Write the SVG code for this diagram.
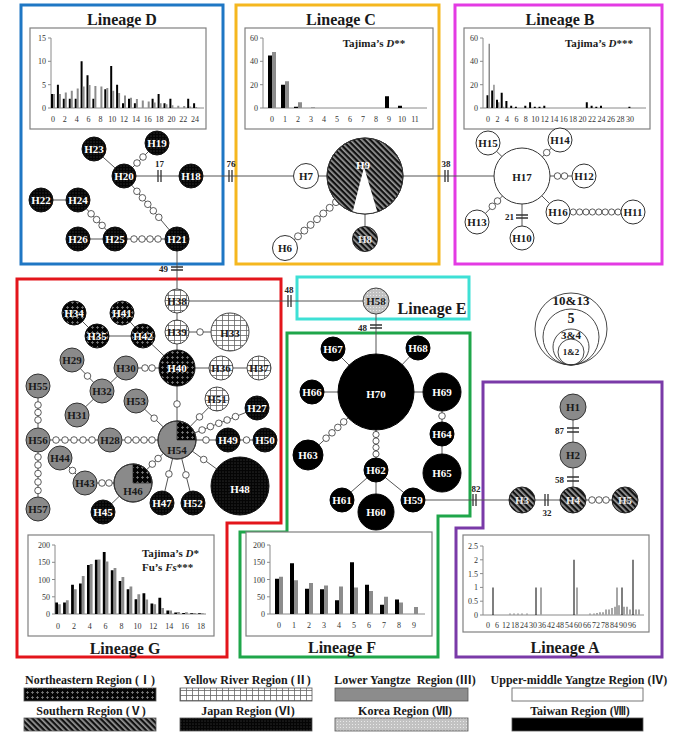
<svg xmlns="http://www.w3.org/2000/svg" width="680" height="755" viewBox="0 0 680 755">
<defs>
<pattern id="pN" width="5" height="5" patternUnits="userSpaceOnUse"><rect width="5" height="5" fill="#050505"/><path d="M2.5 1.2V3.8M1.2 2.5H3.8" stroke="#7a7a7a" stroke-width="1"/></pattern>
<pattern id="pY" width="6" height="5" patternUnits="userSpaceOnUse"><rect width="6" height="5" fill="#fff"/><path d="M0 0.5H6M0.5 0V5" stroke="#666" stroke-width="0.8"/></pattern>
<pattern id="pS" width="4" height="4" patternUnits="userSpaceOnUse" patternTransform="rotate(-45)"><rect width="4" height="4" fill="#111"/><rect width="1.7" height="4" fill="#9a9a9a"/></pattern>
<pattern id="pJ" width="3" height="3" patternUnits="userSpaceOnUse"><rect width="3" height="3" fill="#050505"/><circle cx="1" cy="1" r="0.45" fill="#8a8a8a"/></pattern>
<pattern id="pK" width="3" height="3" patternUnits="userSpaceOnUse"><rect width="3" height="3" fill="#c2c2c2"/><circle cx="1.5" cy="1.5" r="0.55" fill="#efefef"/></pattern>
</defs>
<style>
.tt{font-family:"Liberation Serif","Noto Sans CJK SC",serif;font-weight:bold;text-anchor:middle;fill:#1a1a1a}
.nl{font-family:"Liberation Serif",serif;font-weight:bold;font-size:11px;text-anchor:middle}
.w{fill:#fff}
.d{fill:#1a1a1a}
.ax{font-family:"Liberation Serif",serif;font-size:8px;fill:#333;text-anchor:middle}
.ay{font-family:"Liberation Serif",serif;font-size:8px;fill:#333;text-anchor:end}
.e{stroke:#555;stroke-width:1;fill:none}
.sc{fill:#fff;stroke:#333;stroke-width:0.8}
.tk{stroke:#333;stroke-width:1.3;fill:none}
.tl{font-family:"Liberation Serif",serif;font-weight:bold;font-size:9px;fill:#222;text-anchor:middle}
.tr{font-family:"Liberation Serif",serif;font-weight:bold;font-size:9px;fill:#222;text-anchor:end}
.box{fill:none;stroke-width:3}
.fr{fill:#fff;stroke:#808080;stroke-width:1.2}
.axl{stroke:#8a8a8a;stroke-width:1;fill:none}
.bk{fill:#000}
.gr{fill:#8c8c8c}
.nB{fill:url(#pJ);stroke:#111}
.nT{fill:#000;stroke:#000}
.nS{fill:url(#pS);stroke:#222}
.nG{fill:#8a8a8a;stroke:#333}
.nW{fill:#fff;stroke:#333}
.nY{fill:url(#pY);stroke:#444}
.nN{fill:url(#pN);stroke:#111}
.nK{fill:url(#pK);stroke:#444}
.lg{stroke:#555;stroke-width:0.8}
.leg{font-family:"Liberation Serif","Noto Sans CJK SC",serif;font-weight:bold;font-size:12px;text-anchor:middle;fill:#1a1a1a}
</style>
<rect width="680" height="755" fill="#fff"/>

<g id="boxes">
<rect class="box" x="21" y="5" width="202" height="259" stroke="#1f77c4"/>
<rect class="box" x="236" y="5" width="203" height="259" stroke="#f5b71f"/>
<rect class="box" x="455" y="5" width="207" height="259" stroke="#e33be3"/>
<rect class="box" x="297" y="277" width="172" height="42" stroke="#3ee0d5"/>
<polygon class="box" points="17,279 281,279 281,523 227,523 227,657 17,657" stroke="#e3151b"/>
<polygon class="box" points="287,333 470,333 470,516 438,516 438,657 240,657 240,532 287,532" stroke="#1fa64a"/>
<polygon class="box" points="483,382 662,382 662,657 456,657 456,528 483,528" stroke="#7a3aa8"/>
<text class="tt" x="122" y="25" font-size="16">Lineage D</text>
<text class="tt" x="341" y="25" font-size="16">Lineage C</text>
<text class="tt" x="560" y="25" font-size="16">Lineage B</text>
<text class="tt" x="432" y="314" font-size="16">Lineage E</text>
<text class="tt" x="125" y="654" font-size="16">Lineage G</text>
<text class="tt" x="342" y="653" font-size="16">Lineage F</text>
<text class="tt" x="565" y="653" font-size="16">Lineage A</text>
</g>

<g id="histD">
<rect class="fr" x="30" y="28" width="176" height="101"/>
<path class="axl" d="M51 38V108H204M48 38H51M48 61.3H51M48 84.7H51M48 108H51"/>
<path class="bk" d="M51 108v-14h2v14zM56.9 108v-23.3h2v23.3zM62.8 108v-9.3h2v9.3zM68.8 108v-9.3h2v9.3zM74.7 108v-9.3h2v9.3zM80.6 108v-46.7h2v46.7zM86.5 108v-32.7h2v32.7zM92.4 108v-9.3h2v9.3zM104.3 108v-18.7h2v18.7zM110.2 108v-42h2v42zM116.1 108v-23.3h2v23.3zM122 108v-4.7h2v4.7zM128 108v-9.3h2v9.3zM133.9 108v-4.7h2v4.7zM151.6 108v-9.3h2v9.3zM157.6 108v-14h2v14zM163.5 108v-4.7h2v4.7zM169.4 108v-9.3h2v9.3zM187.2 108v-9.3h2v9.3zM193.1 108v-4.7h2v4.7z"/>
<path class="gr" d="M53 108v-14h2v14zM58.9 108v-14h2v14zM64.8 108v-15.4h2v15.4zM70.8 108v-17.3h2v17.3zM76.7 108v-19.6h2v19.6zM82.6 108v-21.5h2v21.5zM88.5 108v-22.9h2v22.9zM94.4 108v-21.9h2v21.9zM100.4 108v-21.5h2v21.5zM106.3 108v-20.1h2v20.1zM112.2 108v-17.3h2v17.3zM118.1 108v-14.9h2v14.9zM124 108v-12.6h2v12.6zM130 108v-10.3h2v10.3zM135.9 108v-8.9h2v8.9zM141.8 108v-7.5h2v7.5zM147.7 108v-6.5h2v6.5zM153.6 108v-5.6h2v5.6zM159.6 108v-4.7h2v4.7zM165.5 108v-3.7h2v3.7zM171.4 108v-2.8h2v2.8zM177.3 108v-2.3h2v2.3zM183.2 108v-1.9h2v1.9zM189.2 108v-1.4h2v1.4zM195.1 108v-0.9h2v0.9z"/>
<text class="ay" x="46" y="41">15</text><text class="ay" x="46" y="64.3">10</text><text class="ay" x="46" y="87.7">5</text><text class="ay" x="46" y="111">0</text>
<text class="ax" x="53" y="122">0</text><text class="ax" x="64.8" y="122">2</text><text class="ax" x="76.7" y="122">4</text><text class="ax" x="88.5" y="122">6</text><text class="ax" x="100.4" y="122">8</text><text class="ax" x="112.2" y="122">10</text><text class="ax" x="124" y="122">12</text><text class="ax" x="135.9" y="122">14</text><text class="ax" x="147.7" y="122">16</text><text class="ax" x="159.6" y="122">18</text><text class="ax" x="171.4" y="122">20</text><text class="ax" x="183.2" y="122">22</text><text class="ax" x="195.1" y="122">24</text>
</g>

<g id="histC">
<rect class="fr" x="245" y="28" width="188" height="101"/>
<path class="axl" d="M263 38V108H427M260 38H263M260 61.3H263M260 84.7H263M260 108H263"/>
<path class="bk" d="M268 108v-52.5h4v52.5zM281 108v-23.3h4v23.3zM294 108v-1.2h4v1.2zM385 108v-11.7h4v11.7zM398 108v-2.3h4v2.3z"/>
<path class="gr" d="M272 108v-56h4v56zM285 108v-26.8h4v26.8zM298 108v-5.8h4v5.8zM311 108v-0.8h4v0.8z"/>
<text class="ay" x="258" y="41">60</text><text class="ay" x="258" y="64.3">40</text><text class="ay" x="258" y="87.7">20</text><text class="ay" x="258" y="111">0</text>
<text class="ax" x="272" y="122">0</text><text class="ax" x="285" y="122">1</text><text class="ax" x="298" y="122">2</text><text class="ax" x="311" y="122">3</text><text class="ax" x="324" y="122">4</text><text class="ax" x="337" y="122">5</text><text class="ax" x="350" y="122">6</text><text class="ax" x="363" y="122">7</text><text class="ax" x="376" y="122">8</text><text class="ax" x="389" y="122">9</text><text class="ax" x="402" y="122">10</text><text class="ax" x="415" y="122">11</text>
<text class="tt" x="374" y="47" font-size="11">Tajima’s <tspan font-style="italic">D</tspan>**</text>
</g>

<g id="histB">
<rect class="fr" x="464" y="28" width="186" height="101"/>
<path class="axl" d="M483 38V108H646M480 38H483M480 61.3H483M480 84.7H483M480 108H483"/>
<path class="bk" d="M486.5 108v-12.8h2v12.8zM491.2 108v-17.5h2v17.5zM496 108v-8.2h2v8.2zM500.7 108v-15.2h2v15.2zM505.4 108v-7h2v7zM510.2 108v-2.3h2v2.3zM514.9 108v-1.2h2v1.2zM524.3 108v-2.3h2v2.3zM529.1 108v-5.8h2v5.8zM533.8 108v-1.2h2v1.2zM538.5 108v-1.2h2v1.2zM543.3 108v-2.3h2v2.3zM585.8 108v-5.8h2v5.8zM590.6 108v-2.3h2v2.3zM595.3 108v-1.2h2v1.2zM600 108v-2.3h2v2.3zM628.4 108v-1.2h2v1.2z"/>
<path class="gr" d="M488.5 108v-64.2h1.5v64.2zM493.2 108v-23.3h1.5v23.3zM498 108v-5.8h1.5v5.8zM502.7 108v-1.2h1.5v1.2z"/>
<text class="ay" x="478" y="41">60</text><text class="ay" x="478" y="64.3">40</text><text class="ay" x="478" y="87.7">20</text><text class="ay" x="478" y="111">0</text>
<g font-size="7.5"><text class="ax" x="488" y="122" font-size="7.5">0</text><text class="ax" x="497.5" y="122" font-size="7.5">2</text><text class="ax" x="506.9" y="122" font-size="7.5">4</text><text class="ax" x="516.4" y="122" font-size="7.5">6</text><text class="ax" x="525.8" y="122" font-size="7.5">8</text><text class="ax" x="535.3" y="122" font-size="7.5">10</text><text class="ax" x="544.8" y="122" font-size="7.5">12</text><text class="ax" x="554.2" y="122" font-size="7.5">14</text><text class="ax" x="563.7" y="122" font-size="7.5">16</text><text class="ax" x="573.1" y="122" font-size="7.5">18</text><text class="ax" x="582.6" y="122" font-size="7.5">20</text><text class="ax" x="592.1" y="122" font-size="7.5">22</text><text class="ax" x="601.5" y="122" font-size="7.5">24</text><text class="ax" x="611" y="122" font-size="7.5">26</text><text class="ax" x="620.4" y="122" font-size="7.5">28</text><text class="ax" x="629.9" y="122" font-size="7.5">30</text></g>
<text class="tt" x="599" y="47" font-size="11">Tajima’s <tspan font-style="italic">D</tspan>***</text>
</g>

<g id="histA">
<rect class="fr" x="463" y="535" width="186" height="97"/>
<path class="axl" d="M483 546V615H644M480 546H483M480 559.8H483M480 573.6H483M480 587.4H483M480 601.2H483M480 615H483"/>
<path class="bk" d="M492.5 615v-27.6h1v27.6zM535.5 615v-27.6h1v27.6zM573.5 615v-55.2h1v55.2zM621.5 615v-27.6h1v27.6zM632.5 615v-55.2h1v55.2z"/>
<path fill="#a6a6a6" d="M540 615v-27.6h2v27.6zM576 615v-27.6h2v27.6zM616 615v-27.6h2v27.6zM509 615v-1.4h2v1.4zM513 615v-1.4h2v1.4zM517 615v-1.4h2v1.4zM521 615v-1.4h2v1.4zM526 615v-1.4h2v1.4zM589 615v-1.4h2v1.4zM593 615v-1.4h2v1.4zM596 615v-2h2v2zM599 615v-2.8h2v2.8zM602 615v-2.8h2v2.8zM605 615v-5.5h2v5.5zM608 615v-5.5h2v5.5zM611 615v-6.9h2v6.9zM614 615v-8.3h2v8.3zM618 615v-9.7h2v9.7zM623 615v-8.3h2v8.3zM626 615v-8.3h2v8.3zM629 615v-5.5h2v5.5zM635 615v-5.5h2v5.5zM638 615v-5.5h2v5.5z"/>
<text class="ay" x="478" y="549">2.5</text><text class="ay" x="478" y="562.8">2</text><text class="ay" x="478" y="576.6">1.5</text><text class="ay" x="478" y="590.4">1</text><text class="ay" x="478" y="604.2">0.5</text><text class="ay" x="478" y="618">0</text>
<text class="ax" x="488" y="628" font-size="7">0</text><text class="ax" x="497" y="628" font-size="7">6</text><text class="ax" x="506" y="628" font-size="7">12</text><text class="ax" x="515" y="628" font-size="7">18</text><text class="ax" x="524" y="628" font-size="7">24</text><text class="ax" x="533" y="628" font-size="7">30</text><text class="ax" x="542" y="628" font-size="7">36</text><text class="ax" x="551" y="628" font-size="7">42</text><text class="ax" x="560" y="628" font-size="7">48</text><text class="ax" x="569" y="628" font-size="7">54</text><text class="ax" x="578" y="628" font-size="7">60</text><text class="ax" x="587" y="628" font-size="7">66</text><text class="ax" x="596" y="628" font-size="7">72</text><text class="ax" x="605" y="628" font-size="7">78</text><text class="ax" x="614" y="628" font-size="7">84</text><text class="ax" x="623" y="628" font-size="7">90</text><text class="ax" x="632" y="628" font-size="7">96</text>
</g>

<g id="histF">
<rect class="fr" x="246" y="532" width="186" height="104"/>
<path class="axl" d="M270 545V614H425M267 545H270M267 562.3H270M267 579.5H270M267 596.8H270M267 614H270"/>
<path class="bk" d="M275 614v-35.2h4v35.2zM290 614v-50.7h4v50.7zM305 614v-25.2h4v25.2zM320 614v-24.8h4v24.8zM335 614v-13.8h4v13.8zM350 614v-51.8h4v51.8zM365 614v-29.3h4v29.3zM380 614v-9.3h4v9.3zM395 614v-14.5h4v14.5z"/>
<path class="gr" d="M279 614v-37.3h4v37.3zM294 614v-33.8h4v33.8zM309 614v-31.1h4v31.1zM324 614v-28.6h4v28.6zM339 614v-27.6h4v27.6zM354 614v-26.6h4v26.6zM369 614v-23.1h4v23.1zM384 614v-17.3h4v17.3zM399 614v-11.4h4v11.4zM414 614v-6.9h4v6.9z"/>
<text class="ay" x="265" y="548">200</text><text class="ay" x="265" y="565.3">150</text><text class="ay" x="265" y="582.5">100</text><text class="ay" x="265" y="599.8">50</text><text class="ay" x="265" y="617">0</text>
<text class="ax" x="279" y="628">0</text><text class="ax" x="294" y="628">1</text><text class="ax" x="309" y="628">2</text><text class="ax" x="324" y="628">3</text><text class="ax" x="339" y="628">4</text><text class="ax" x="354" y="628">5</text><text class="ax" x="369" y="628">6</text><text class="ax" x="384" y="628">7</text><text class="ax" x="399" y="628">8</text><text class="ax" x="414" y="628">9</text>
</g>

<g id="histG">
<rect class="fr" x="28" y="535" width="186" height="101"/>
<path class="axl" d="M55 545V614H206M52 545H55M52 562.3H55M52 579.5H55M52 596.8H55M52 614H55"/>
<path class="bk" d="M55.2 614v-11.4h2.8v11.4zM63.1 614v-11.4h2.8v11.4zM71.1 614v-29.3h2.8v29.3zM79 614v-30.4h2.8v30.4zM87 614v-49h2.8v49zM94.9 614v-54.2h2.8v54.2zM102.8 614v-62.1h2.8v62.1zM110.8 614v-43.8h2.8v43.8zM118.7 614v-33.1h2.8v33.1zM126.7 614v-24.8h2.8v24.8zM134.6 614v-14.8h2.8v14.8zM142.5 614v-20.7h2.8v20.7zM150.5 614v-10.4h2.8v10.4zM158.4 614v-16.2h2.8v16.2zM166.4 614v-3.5h2.8v3.5zM174.3 614v-1.4h2.8v1.4zM182.2 614v-1h2.8v1zM190.2 614v-0.7h2.8v0.7zM198.1 614v-0.7h2.8v0.7z"/>
<path class="gr" d="M58 614v-9.7h2.8v9.7zM65.9 614v-13.8h2.8v13.8zM73.9 614v-24.8h2.8v24.8zM81.8 614v-38h2.8v38zM89.8 614v-50h2.8v50zM97.7 614v-54.5h2.8v54.5zM105.6 614v-52.4h2.8v52.4zM113.6 614v-45.9h2.8v45.9zM121.5 614v-36.9h2.8v36.9zM129.5 614v-27.6h2.8v27.6zM137.4 614v-19.7h2.8v19.7zM145.3 614v-14.5h2.8v14.5zM153.3 614v-9.7h2.8v9.7zM161.2 614v-5.9h2.8v5.9zM169.2 614v-3.5h2.8v3.5zM177.1 614v-2.1h2.8v2.1zM185 614v-1.7h2.8v1.7zM193 614v-1h2.8v1zM200.9 614v-0.7h2.8v0.7z"/>
<text class="ay" x="50" y="548">200</text><text class="ay" x="50" y="565.3">150</text><text class="ay" x="50" y="582.5">100</text><text class="ay" x="50" y="599.8">50</text><text class="ay" x="50" y="617">0</text>
<text class="ax" x="58" y="629">0</text><text class="ax" x="73.9" y="629">2</text><text class="ax" x="89.8" y="629">4</text><text class="ax" x="105.6" y="629">6</text><text class="ax" x="121.5" y="629">8</text><text class="ax" x="137.4" y="629">10</text><text class="ax" x="153.3" y="629">12</text><text class="ax" x="169.2" y="629">14</text><text class="ax" x="185" y="629">16</text><text class="ax" x="200.9" y="629">18</text>
<text class="tt" x="142" y="557" font-size="11" style="text-anchor:start">Tajima’s <tspan font-style="italic">D</tspan>*</text>
<text class="tt" x="142" y="571" font-size="11" style="text-anchor:start">Fu’s <tspan font-style="italic">Fs</tspan>***</text>
</g>

<g id="connectors">
<path class="e" d="M94 149L124 176M157 143L124 176M124 176L191 176M124 176L177 239M41 200L78 200M78 200L115 239M78 239L115 239M115 239L177 239M177 239L177 301M191 176L522 176M365 176L365 239M285 248L365 176M522 176L488 143M522 176L560 140M522 176L584 176M522 176L558 212M558 212L633 212M522 176L477 222M522 176L522 238M177 301L376 301M376 301L376 392M376 392L333 349M376 392L418 348M376 392L312 392M376 392L442 392M376 392L308 455M376 392L376 470M442 392L442 473M376 470L342 500M376 470L376 512M376 470L413 500M413 500L625 500M573 407L573 500M177 301L177 440M177 332L230 332M74 313L97 336M122 313L143 336M97 336L143 336M143 336L177 368M177 368L126 368M177 368L259 368M72 360L102 391M126 368L102 391M102 391L77 415M38 386L38 509M38 440L265 440M136 401L177 440M217 399L177 440M257 408L177 440M177 440L240 486M177 440L133 483M177 440L162 503M177 440L193 503M60 458L85 483M85 483L133 483M133 483L103 512"/>
<path class="tk" d="M158 170V182M161 170V182M229 170V182M232 170V182M445 170V182M448 170V182M171 267H183M171 270H183M516 215H528M516 218H528M288 295V307M291 295V307M370 325H382M370 328H382M473 494V506M476 494V506M567 428H579M567 432H579M567 477H579M567 481H579M545 494V506M548 494V506"/>
<g>
<circle class="sc" cx="137" cy="163" r="3.3"/><circle class="sc" cx="143" cy="157" r="3.3"/>
<circle class="sc" cx="136.9" cy="191.3" r="3.3"/><circle class="sc" cx="142.4" cy="197.8" r="3.3"/><circle class="sc" cx="147.8" cy="204.3" r="3.3"/><circle class="sc" cx="153.3" cy="210.8" r="3.3"/><circle class="sc" cx="158.8" cy="217.3" r="3.3"/>
<circle class="sc" cx="91.1" cy="213.8" r="3.3"/><circle class="sc" cx="96.6" cy="219.6" r="3.3"/><circle class="sc" cx="102.1" cy="225.4" r="3.3"/>
<circle class="sc" cx="134" cy="239" r="3.3"/><circle class="sc" cx="142" cy="239" r="3.3"/><circle class="sc" cx="150" cy="239" r="3.3"/><circle class="sc" cx="158" cy="239" r="3.3"/>
<circle class="sc" cx="298" cy="236.3" r="3.5"/><circle class="sc" cx="304.3" cy="230.6" r="3.5"/><circle class="sc" cx="310.6" cy="224.9" r="3.5"/><circle class="sc" cx="317" cy="219.2" r="3.5"/><circle class="sc" cx="323.3" cy="213.5" r="3.5"/><circle class="sc" cx="329.7" cy="207.8" r="3.5"/><circle class="sc" cx="336" cy="202.1" r="3.5"/>
<circle class="sc" cx="546.7" cy="152.6" r="3.3"/>
<circle class="sc" cx="557.5" cy="176" r="3.3"/><circle class="sc" cx="564.5" cy="176" r="3.3"/>
<circle class="sc" cx="573.2" cy="212" r="3.1"/><circle class="sc" cx="579.6" cy="212" r="3.1"/><circle class="sc" cx="586" cy="212" r="3.1"/><circle class="sc" cx="592.4" cy="212" r="3.1"/><circle class="sc" cx="598.8" cy="212" r="3.1"/><circle class="sc" cx="605.2" cy="212" r="3.1"/><circle class="sc" cx="611.6" cy="212" r="3.1"/><circle class="sc" cx="618" cy="212" r="3.1"/>
<circle class="sc" cx="497.5" cy="201" r="3.3"/><circle class="sc" cx="492.3" cy="206.3" r="3.3"/>
<circle class="sc" cx="343.7" cy="421.9" r="3.3"/><circle class="sc" cx="337.8" cy="427.4" r="3.3"/><circle class="sc" cx="332" cy="432.8" r="3.3"/><circle class="sc" cx="326.1" cy="438.2" r="3.3"/>
<circle class="sc" cx="376" cy="434.5" r="3.1"/><circle class="sc" cx="376" cy="441" r="3.1"/><circle class="sc" cx="376" cy="447.5" r="3.1"/><circle class="sc" cx="376" cy="454" r="3.1"/>
<circle class="sc" cx="442" cy="416" r="3.3"/>
<circle class="sc" cx="592" cy="500" r="3.3"/><circle class="sc" cx="599" cy="500" r="3.3"/><circle class="sc" cx="606" cy="500" r="3.3"/>
<circle class="sc" cx="200" cy="332" r="3.3"/>
<circle class="sc" cx="145" cy="368" r="3.3"/><circle class="sc" cx="152" cy="368" r="3.3"/>
<circle class="sc" cx="177" cy="404" r="3.3"/>
<circle class="sc" cx="87.5" cy="376" r="3.3"/>
<circle class="sc" cx="38" cy="405" r="3.3"/><circle class="sc" cx="38" cy="412.5" r="3.3"/><circle class="sc" cx="38" cy="420" r="3.3"/>
<circle class="sc" cx="56" cy="440" r="3.3"/><circle class="sc" cx="65" cy="440" r="3.3"/><circle class="sc" cx="74" cy="440" r="3.3"/><circle class="sc" cx="83" cy="440" r="3.3"/><circle class="sc" cx="92" cy="440" r="3.3"/>
<circle class="sc" cx="128" cy="440" r="3.3"/><circle class="sc" cx="136" cy="440" r="3.3"/><circle class="sc" cx="144" cy="440" r="3.3"/><circle class="sc" cx="152" cy="440" r="3.3"/>
<circle class="sc" cx="38" cy="457" r="3.3"/><circle class="sc" cx="38" cy="465" r="3.3"/><circle class="sc" cx="38" cy="473.5" r="3.3"/><circle class="sc" cx="38" cy="482" r="3.3"/><circle class="sc" cx="38" cy="490.5" r="3.3"/>
<circle class="sc" cx="154.1" cy="418.2" r="3.3"/>
<circle class="sc" cx="199.5" cy="416.9" r="3.3"/>
<circle class="sc" cx="202.1" cy="430" r="3.3"/><circle class="sc" cx="210.4" cy="426.6" r="3.3"/><circle class="sc" cx="218.8" cy="423.3" r="3.3"/><circle class="sc" cx="227.1" cy="420" r="3.3"/><circle class="sc" cx="235.5" cy="416.6" r="3.3"/>
<circle class="sc" cx="206" cy="440" r="3.3"/>
<circle class="sc" cx="246.5" cy="440" r="3.3"/>
<circle class="sc" cx="203.7" cy="459.5" r="3.3"/>
<circle class="sc" cx="158.1" cy="458.5" r="3.3"/><circle class="sc" cx="152.3" cy="464.1" r="3.3"/>
<circle class="sc" cx="168.9" cy="474" r="3.3"/>
<circle class="sc" cx="185.9" cy="474.9" r="3.3"/>
<circle class="sc" cx="72.5" cy="470.5" r="3.3"/>
<circle class="sc" cx="102" cy="483" r="3.3"/><circle class="sc" cx="109" cy="483" r="3.3"/>
</g>
<text class="tl" x="159.5" y="167">17</text>
<text class="tl" x="231" y="167">76</text>
<text class="tl" x="446" y="167">38</text>
<text class="tr" x="168" y="272">49</text>
<text class="tr" x="514" y="220">21</text>
<text class="tl" x="289" y="293">48</text>
<text class="tr" x="367" y="331">48</text>
<text class="tl" x="476" y="492">82</text>
<text class="tr" x="564" y="434">87</text>
<text class="tr" x="564" y="483">58</text>
<text class="tl" x="547" y="516">32</text>
</g>

<g id="H23"><circle class="nB" cx="94" cy="149" r="12"/><text class="nl w" x="94" y="153">H23</text></g>
<g id="H19"><circle class="nB" cx="157" cy="143" r="12"/><text class="nl w" x="157" y="147">H19</text></g>
<g id="H20"><circle class="nB" cx="124" cy="176" r="12"/><text class="nl w" x="124" y="180">H20</text></g>
<g id="H18"><circle class="nB" cx="191" cy="176" r="12"/><text class="nl w" x="191" y="180">H18</text></g>
<g id="H22"><circle class="nB" cx="41" cy="200" r="12"/><text class="nl w" x="41" y="204">H22</text></g>
<g id="H24"><circle class="nB" cx="78" cy="200" r="12"/><text class="nl w" x="78" y="204">H24</text></g>
<g id="H26"><circle class="nB" cx="78" cy="239" r="12"/><text class="nl w" x="78" y="243">H26</text></g>
<g id="H25"><circle class="nB" cx="115" cy="239" r="12"/><text class="nl w" x="115" y="243">H25</text></g>
<g id="H21"><circle class="nB" cx="177" cy="239" r="12"/><text class="nl w" x="177" y="243">H21</text></g>

<g id="H7"><circle class="nW" cx="306" cy="176" r="12.5"/><text class="nl d" x="306" y="180">H7</text></g>
<g id="H9"><circle class="nS" cx="365" cy="176" r="38" stroke="none"/><path d="M364 167L352.6 211.9A38 38 0 0 0 377.4 211.9Z" fill="#fff"/><circle cx="365" cy="176" r="38" fill="none" stroke="#333"/><text class="nl w" x="363" y="169" font-size="18">H9</text></g>
<g id="H8"><circle class="nS" cx="365" cy="239" r="12.5"/><text class="nl" x="365" y="243" fill="#e8e8e8">H8</text></g>
<g id="H6"><circle class="nW" cx="285" cy="248" r="12.5"/><text class="nl d" x="285" y="252">H6</text></g>

<g id="H17"><circle class="nW" cx="522" cy="176" r="28"/><text class="nl d" x="522" y="181" font-size="15">H17</text></g>
<g id="H15"><circle class="nW" cx="488" cy="143" r="12"/><text class="nl d" x="488" y="147">H15</text></g>
<g id="H14"><circle class="nW" cx="560" cy="140" r="12"/><text class="nl d" x="560" y="144">H14</text></g>
<g id="H12"><circle class="nW" cx="584" cy="176" r="12"/><text class="nl d" x="584" y="180">H12</text></g>
<g id="H16"><circle class="nW" cx="558" cy="212" r="12"/><text class="nl d" x="558" y="216">H16</text></g>
<g id="H11"><circle class="nW" cx="633" cy="212" r="12"/><text class="nl d" x="633" y="216">H11</text></g>
<g id="H13"><circle class="nW" cx="477" cy="222" r="12"/><text class="nl d" x="477" y="226">H13</text></g>
<g id="H10"><circle class="nW" cx="522" cy="238" r="12"/><text class="nl d" x="522" y="242">H10</text></g>

<g id="H58"><circle class="nK" cx="376" cy="301" r="13"/><text class="nl d" x="376" y="305">H58</text></g>

<g id="H70"><circle class="nT" cx="376" cy="392" r="38"/><text class="nl w" x="376" y="398" font-size="18">H70</text></g>
<g id="H67"><circle class="nT" cx="333" cy="349" r="12"/><text class="nl w" x="333" y="353">H67</text></g>
<g id="H68"><circle class="nT" cx="418" cy="348" r="12"/><text class="nl w" x="418" y="352">H68</text></g>
<g id="H66"><circle class="nT" cx="312" cy="392" r="12"/><text class="nl w" x="312" y="396">H66</text></g>
<g id="H69"><circle class="nT" cx="442" cy="392" r="19"/><text class="nl w" x="442" y="396" font-size="12">H69</text></g>
<g id="H64"><circle class="nT" cx="442" cy="434" r="12"/><text class="nl w" x="442" y="438">H64</text></g>
<g id="H65"><circle class="nT" cx="442" cy="473" r="19"/><text class="nl w" x="442" y="477" font-size="12">H65</text></g>
<g id="H63"><circle class="nT" cx="308" cy="455" r="15"/><text class="nl w" x="308" y="459" font-size="12">H63</text></g>
<g id="H62"><circle class="nT" cx="376" cy="470" r="12"/><text class="nl w" x="376" y="474">H62</text></g>
<g id="H61"><circle class="nT" cx="342" cy="500" r="12"/><text class="nl w" x="342" y="504">H61</text></g>
<g id="H60"><circle class="nT" cx="376" cy="512" r="18"/><text class="nl w" x="376" y="516" font-size="12">H60</text></g>
<g id="H59"><circle class="nT" cx="413" cy="500" r="12"/><text class="nl w" x="413" y="504">H59</text></g>

<g id="H1"><circle class="nG" cx="573" cy="407" r="13"/><text class="nl d" x="573" y="411">H1</text></g>
<g id="H2"><circle class="nG" cx="573" cy="455" r="13"/><text class="nl d" x="573" y="459">H2</text></g>
<g id="H3"><circle class="nS" cx="522" cy="500" r="13"/><text class="nl" x="522" y="504" fill="#e8e8e8">H3</text></g>
<g id="H4"><circle class="nS" cx="573" cy="500" r="13"/><text class="nl" x="573" y="504" fill="#e8e8e8">H4</text></g>
<g id="H5"><circle class="nS" cx="625" cy="500" r="13"/><text class="nl" x="625" y="504" fill="#e8e8e8">H5</text></g>

<g id="H38"><circle class="nY" cx="177" cy="301" r="12"/><text class="nl d" x="177" y="305">H38</text></g>
<g id="H39"><circle class="nY" cx="177" cy="332" r="12"/><text class="nl d" x="177" y="336">H39</text></g>
<g id="H33"><circle class="nY" cx="230" cy="332" r="19"/><text class="nl d" x="230" y="337" font-size="13">H33</text></g>
<g id="H34"><circle class="nN" cx="74" cy="313" r="12"/><text class="nl w" x="74" y="317">H34</text></g>
<g id="H41"><circle class="nN" cx="122" cy="313" r="12"/><text class="nl w" x="122" y="317">H41</text></g>
<g id="H35"><circle class="nN" cx="97" cy="336" r="12"/><text class="nl w" x="97" y="340">H35</text></g>
<g id="H42"><circle class="nN" cx="143" cy="336" r="12"/><text class="nl w" x="143" y="340">H42</text></g>
<g id="H40"><circle class="nN" cx="177" cy="368" r="18"/><text class="nl w" x="177" y="372" font-size="12">H40</text></g>
<g id="H36"><circle class="nY" cx="221" cy="368" r="12"/><text class="nl d" x="221" y="372">H36</text></g>
<g id="H37"><circle class="nY" cx="259" cy="368" r="12"/><text class="nl d" x="259" y="372">H37</text></g>
<g id="H29"><circle class="nG" cx="72" cy="360" r="12"/><text class="nl d" x="72" y="364">H29</text></g>
<g id="H30"><circle class="nG" cx="126" cy="368" r="12"/><text class="nl d" x="126" y="372">H30</text></g>
<g id="H32"><circle class="nG" cx="102" cy="391" r="12"/><text class="nl d" x="102" y="395">H32</text></g>
<g id="H31"><circle class="nG" cx="77" cy="415" r="12"/><text class="nl d" x="77" y="419">H31</text></g>
<g id="H55"><circle class="nG" cx="38" cy="386" r="12"/><text class="nl d" x="38" y="390">H55</text></g>
<g id="H53"><circle class="nG" cx="136" cy="401" r="12"/><text class="nl d" x="136" y="405">H53</text></g>
<g id="H51"><circle class="nY" cx="217" cy="399" r="12"/><text class="nl d" x="217" y="403">H51</text></g>
<g id="H27"><circle class="nB" cx="257" cy="408" r="12"/><text class="nl w" x="257" y="412">H27</text></g>
<g id="H54"><circle class="nG" cx="177" cy="440" r="19"/><path d="M177 440V421A19 19 0 0 1 196 440Z" fill="url(#pN)" stroke="#111" stroke-width="0.6"/><circle cx="177" cy="440" r="19" fill="none" stroke="#333"/><text class="nl d" x="177" y="454" font-size="12">H54</text></g>
<g id="H56"><circle class="nG" cx="38" cy="440" r="12"/><text class="nl d" x="38" y="444">H56</text></g>
<g id="H28"><circle class="nG" cx="110" cy="440" r="12"/><text class="nl d" x="110" y="444">H28</text></g>
<g id="H49"><circle class="nB" cx="228" cy="440" r="12"/><text class="nl w" x="228" y="444">H49</text></g>
<g id="H50"><circle class="nB" cx="265" cy="440" r="12"/><text class="nl w" x="265" y="444">H50</text></g>
<g id="H44"><circle class="nG" cx="60" cy="458" r="12"/><text class="nl d" x="60" y="462">H44</text></g>
<g id="H43"><circle class="nG" cx="85" cy="483" r="12"/><text class="nl d" x="85" y="487">H43</text></g>
<g id="H46"><circle class="nG" cx="133" cy="483" r="19"/><path d="M133 483V464A19 19 0 0 1 152 483Z" fill="url(#pN)" stroke="#111" stroke-width="0.6"/><circle cx="133" cy="483" r="19" fill="none" stroke="#333"/><text class="nl d" x="133" y="495" font-size="12">H46</text></g>
<g id="H48"><circle class="nB" cx="240" cy="486" r="29"/><text class="nl w" x="240" y="493" font-size="18">H48</text></g>
<g id="H57"><circle class="nG" cx="38" cy="509" r="12"/><text class="nl d" x="38" y="513">H57</text></g>
<g id="H45"><circle class="nB" cx="103" cy="512" r="12"/><text class="nl w" x="103" y="516">H45</text></g>
<g id="H47"><circle class="nB" cx="162" cy="503" r="12"/><text class="nl w" x="162" y="507">H47</text></g>
<g id="H52"><circle class="nB" cx="193" cy="503" r="12"/><text class="nl w" x="193" y="507">H52</text></g>

<g id="size-legend" fill="none" stroke="#333" stroke-width="0.9">
<circle cx="571" cy="329" r="36"/>
<circle cx="571" cy="337" r="28"/>
<circle cx="571" cy="347" r="18"/>
<circle cx="571" cy="352" r="13"/>
<text class="tt" x="571" y="305" font-size="13" stroke="none">10&amp;13</text>
<text class="tt" x="571" y="323" font-size="14" stroke="none">5</text>
<text class="tt" x="571" y="339" font-size="11" stroke="none">3&amp;4</text>
<text class="tt" x="571" y="355" font-size="9" stroke="none">1&amp;2</text>
</g>

<g id="region-legend">
<text class="leg" x="90" y="684">Northeastern Region (Ⅰ)</text>
<rect class="lg" x="24" y="688" width="132" height="13" fill="url(#pN)"/>
<text class="leg" x="91" y="715">Southern Region (Ⅴ)</text>
<rect class="lg" x="24" y="718" width="132" height="13" fill="url(#pS)"/>
<text class="leg" x="247" y="684">Yellow River Region (Ⅱ)</text>
<rect class="lg" x="180" y="688" width="132" height="13" fill="url(#pY)"/>
<text class="leg" x="248" y="715">Japan Region (Ⅵ)</text>
<rect class="lg" x="180" y="718" width="132" height="13" fill="url(#pJ)"/>
<text class="leg" x="405" y="684" xml:space="preserve">Lower Yangtze  Region (Ⅲ)</text>
<rect class="lg" x="335" y="688" width="133" height="13" fill="#8c8c8c"/>
<text class="leg" x="405" y="715">Korea Region (Ⅶ)</text>
<rect class="lg" x="335" y="718" width="133" height="13" fill="url(#pK)"/>
<text class="leg" x="579" y="684">Upper-middle Yangtze Region (Ⅳ)</text>
<rect class="lg" x="512" y="688" width="131" height="13" fill="#fff"/>
<text class="leg" x="580" y="715">Taiwan Region (Ⅷ)</text>
<rect class="lg" x="512" y="718" width="131" height="13" fill="#000"/>
</g>
</svg>
